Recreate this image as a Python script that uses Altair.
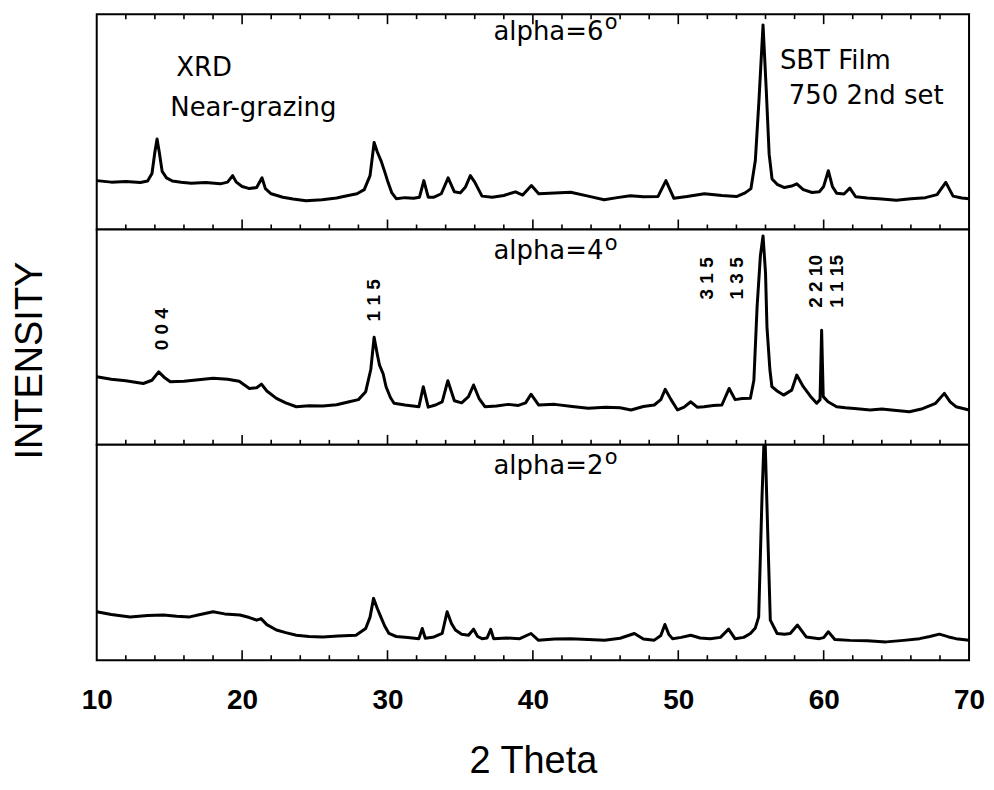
import altair as alt
import pandas as pd

# ---- alpha = 6 deg (top panel) ----
x6 = [10.0, 11.0, 12.0, 13.0, 13.5, 13.8, 14.0, 14.15, 14.3, 14.5, 14.8, 15.2, 15.8, 16.5, 17.5, 18.5,
      19.0, 19.35, 19.6, 20.0, 20.5, 21.0, 21.37, 21.6, 22.0, 22.8, 23.5, 24.4, 25.5, 26.5, 27.3, 27.9,
      28.4, 28.8, 29.08, 29.3, 29.55, 29.8, 30.0, 30.3, 30.6, 31.2, 31.8, 32.2, 32.5, 32.8, 33.2, 33.7,
      34.17, 34.6, 35.0, 35.35, 35.7, 36.0, 36.5, 37.2, 38.0, 38.8, 39.3, 39.9, 40.4, 41.5, 42.6, 43.8,
      44.9, 45.8, 46.7, 47.6, 48.6, 49.15, 49.7, 50.6, 51.8, 53.0, 54.0, 54.6, 55.0, 55.3, 55.55, 55.83,
      56.05, 56.25, 56.45, 56.8, 57.3, 57.8, 58.15, 58.6, 59.2, 59.7, 60.0, 60.32, 60.6, 60.9, 61.4, 61.8,
      62.2, 63.0, 64.0, 65.0, 66.0, 67.0, 67.8, 68.4, 68.9, 69.5, 70.0]
y6 = [22.7, 22.0, 22.3, 21.8, 22.5, 26, 36, 42, 36, 27, 24, 22.5, 21.9, 21.5, 21.8, 21.2,
      22.0, 25, 22, 20, 19, 19.5, 24, 19, 16.6, 15, 14.2, 13.4, 13.8, 14.6, 15.8, 16.6,
      18.5, 25, 40.4, 36, 32, 27, 22.7, 17, 14.3, 14.8, 14.5, 15, 22.7, 15, 15, 16.6,
      24, 17.5, 17, 19.6, 25, 22, 15.5, 15, 15.8, 17.5, 16, 20.4, 16.6, 17, 17.3, 15.5,
      13.8, 14.8, 15.7, 15.2, 15.3, 22.7, 14.5, 15.3, 16.6, 15.8, 15.3, 17, 19, 32, 60, 95,
      65, 35, 23.5, 21, 19.5, 20.2, 21.2, 18.5, 17.2, 17.5, 20, 27.3, 20, 16.8, 16.5, 19.2,
      15.2, 14.6, 14.2, 13.6, 14.3, 14.8, 16.2, 21.9, 15.5, 14.6, 14.3]

# ---- alpha = 4 deg (middle panel) ----
x4 = [10.0, 11.0, 12.0, 13.2, 13.8, 14.26, 14.7, 15.06, 16.0, 17.0, 18.0, 19.0, 19.8, 20.5, 21.0, 21.33,
      21.7, 22.36, 23.0, 23.73, 24.6, 25.55, 26.5, 27.37, 28.0, 28.5, 28.85, 29.08, 29.3, 29.45, 29.7,
      29.9, 30.2, 30.45, 31.2, 32.16, 32.46, 32.8, 33.3, 33.76, 34.15, 34.6, 35.1, 35.57, 35.92, 36.3,
      36.7, 37.5, 38.3, 39.0, 39.5, 39.87, 40.4, 41.5, 42.7, 43.8, 45.0, 46.0, 46.75, 47.6, 48.35, 48.8,
      49.1, 49.5, 49.95, 50.4, 50.86, 51.3, 51.77, 52.4, 53.0, 53.5, 53.91, 54.4, 54.96, 55.2, 55.42,
      55.65, 55.83, 56.0, 56.1, 56.3, 56.44, 56.8, 57.24, 57.8, 58.15, 58.6, 59.1, 59.52, 59.75, 59.86,
      59.97, 60.3, 60.89, 61.5, 62.3, 63.2, 64.0, 65.0, 65.9, 66.8, 67.7, 68.3, 68.7, 69.1, 70.0]
y4 = [31.6, 30.5, 29.8, 28.5, 30, 33.9, 31, 29.3, 29.5, 30.2, 30.9, 30.5, 29.5, 26.2, 26.5, 28.2,
      25, 21.6, 19.5, 17.7, 18.2, 18, 18.6, 20, 21, 24.7, 35, 50, 42, 37, 33,
      27, 22, 19.3, 18.5, 17.7, 27, 17.5, 18.5, 20, 29.8, 20.5, 19.5, 22.4, 27.8, 21.5,
      17.7, 18, 18.8, 18.3, 19.5, 23.5, 18.5, 18.8, 17.8, 17, 17.5, 17.2, 16.2, 17.8, 18.5, 21,
      25.8, 21, 16.2, 17.5, 20, 17.5, 17.7, 18.3, 18.5, 26.2, 21, 21.5, 21.6, 30, 64,
      88, 97, 80, 54.8, 35, 27, 25, 23.1, 25.4, 32.4, 27, 22.5, 19.3, 21, 53.2,
      22.4, 20, 17.7, 17.2, 16.8, 16.2, 16.6, 16, 15.4, 16.8, 19.3, 23.9, 20, 17.7, 16.2]

# ---- alpha = 2 deg (bottom panel) ----
x2 = [10.0, 11.0, 12.3, 13.5, 14.6, 15.5, 16.4, 17.2, 18.0, 18.8, 19.85, 20.5, 21.0, 21.3, 21.7, 22.36,
      23.0, 23.73, 24.6, 25.55, 26.6, 27.83, 28.5, 28.8, 29.04, 29.3, 29.54, 29.8, 30.1, 30.6, 31.4,
      32.16, 32.39, 32.6, 33.2, 33.76, 34.1, 34.4, 34.67, 35.1, 35.57, 35.92, 36.2, 36.5, 36.85, 37.1,
      37.3, 38.2, 39.1, 39.87, 40.37, 41.5, 42.6, 43.8, 44.93, 46.0, 46.98, 47.6, 48.35, 48.8, 49.08,
      49.35, 49.6, 50.2, 50.86, 51.5, 52.2, 52.9, 53.46, 53.9, 54.5, 54.96, 55.3, 55.53, 55.76, 55.94,
      56.15, 56.33, 56.8, 57.3, 57.7, 58.2, 58.8, 59.7, 60.0, 60.32, 60.77, 61.8, 63.0, 64.3, 65.5,
      66.6, 67.3, 67.96, 68.6, 69.1, 70.0]
y2 = [22.5, 21.2, 20.1, 20.8, 21, 20.4, 20.1, 21.3, 22.5, 21.5, 21, 19.8, 18.6, 19.3, 16.5, 14,
      12.8, 11.6, 11, 10.8, 11.2, 11.6, 14.7, 20, 28.7, 24, 20.1, 16, 12.4, 11, 10.5,
      10, 14.7, 10.2, 10.8, 12.4, 22.5, 17, 14, 12, 11.6, 14.4, 11, 10, 10.3, 14.3,
      10, 10.3, 10, 12.4, 9.3, 9.8, 10, 9.6, 9.3, 10.2, 12.4, 9.8, 9.3, 11.5, 16.6,
      12, 10, 10.6, 11.6, 10.3, 10, 10.6, 14.4, 10, 10.6, 12.4, 15, 20.1, 76, 110,
      60, 18.6, 12.4, 12, 12.4, 16.3, 10.8, 10, 10.5, 13.2, 9.6, 9.2, 9, 8.5, 9.2,
      10, 11, 12.1, 10.8, 10, 9.3]

# ---- axis ticks / labels ----
tick_labels = [10, 20, 30, 40, 50, 60, 70]
major_ticks = [20, 30, 40, 50, 60]
minor_ticks = [12, 14, 16, 18, 22, 24, 26, 28, 32, 34, 36, 38, 42, 44, 46, 48, 52, 54, 56, 58,
               62, 64, 66, 68]

# ---- annotations ----
alpha_text = ["alpha=6", "alpha=4", "alpha=2"]
alpha_y = [88, 86.1, 86.5]
deg_y = [93.1, 90.5, 91.0]
alpha_x = 44.85
deg_x = 44.95

top_notes = ["XRD", "Near-grazing", "SBT Film", "750 2nd set"]
top_notes_x = [15.47, 15.06, 56.99, 57.6]
top_notes_y = [71.3, 52.8, 74.5, 58.3]

hkl_text = ["0 0 4", "1 1 5", "3 1 5", "1 3 5", "2 2 10", "1 1 15"]
hkl_x = [14.5, 29.08, 52.0, 54.05, 59.45, 60.9]
hkl_y = [53.7, 67.1, 77.3, 77.3, 75.9, 75.9]

W, H = 875, 216
XS = alt.Scale(domain=[10, 70], nice=False, zero=False)
YS = alt.Scale(domain=[0, 100], nice=False, zero=False)
ANNOT_FONT = "DejaVu Sans"


def panel(i, xv, yv, top_ticks=False, bottom_axis=False, y_title=False, extra=None):
    if bottom_axis:
        xaxis = alt.Axis(values=tick_labels, ticks=False, domain=False, grid=False,
                         labelFont="Liberation Sans", labelFontSize=28, labelFontWeight="bold",
                         labelColor="black", labelPadding=26, labelFlush=False, labelOverlap=False,
                         title="2 Theta", titleFont="Liberation Sans", titleFontSize=38,
                         titleFontWeight="normal", titleColor="black", titlePadding=29)
    else:
        xaxis = None
    if y_title:
        yaxis = alt.Axis(title="INTENSITY", labels=False, ticks=False, domain=False, grid=False,
                         titleFont="Liberation Sans", titleFontSize=38, titleFontWeight="normal",
                         titleColor="black", titleX=-66, titleY=131, titleAngle=270,
                         titleAlign="center", titleBaseline="middle")
    else:
        yaxis = None

    def X(field):
        return alt.X(field, scale=XS, axis=xaxis)

    def Y(field):
        return alt.Y(field, scale=YS, axis=yaxis)

    def ticks(vals, length_px, top):
        # each tick is a short two-point line segment on the panel's own scales
        L = length_px / H * 100
        rows = []
        for t in vals:
            if top:
                rows += [{"t": t, "v": 100.0}, {"t": t, "v": 100.0 - L}]
            else:
                rows += [{"t": t, "v": 0.0}, {"t": t, "v": L}]
        df = pd.DataFrame(rows)
        return alt.Chart(df).mark_line(color="black", strokeWidth=1.6).encode(
            x=X("t:Q"), y=Y("v:Q"), detail="t:N")

    def texts(xs, ys, labels, **mark):
        df = pd.DataFrame({"x": xs, "y": ys, "label": labels})
        return alt.Chart(df).mark_text(color="black", **mark).encode(
            x=X("x:Q"), y=Y("y:Q"), text="label:N")

    df = pd.DataFrame({"x": xv, "y": yv})
    line = alt.Chart(df).mark_line(color="black", strokeWidth=3, clip=True,
                                   strokeJoin="round").encode(x=X("x:Q"), y=Y("y:Q"))
    layers = [line]
    layers.append(texts([alpha_x], [alpha_y[i]], [alpha_text[i]], font=ANNOT_FONT,
                        fontSize=26, align="right", baseline="alphabetic"))
    layers.append(texts([deg_x], [deg_y[i]], ["o"], font=ANNOT_FONT,
                        fontSize=21, align="left", baseline="alphabetic"))
    if extra == "top":
        layers.append(texts(top_notes_x, top_notes_y, top_notes, font=ANNOT_FONT, fontSize=26,
                            align="left", baseline="alphabetic"))
    if extra == "hkl":
        layers.append(texts(hkl_x, hkl_y, hkl_text, font="Liberation Sans", fontSize=19,
                            fontWeight="bold", angle=270, align="center", baseline="middle"))
    layers += [ticks(minor_ticks, 5, False), ticks(major_ticks, 10, False)]
    if top_ticks:
        layers += [ticks(minor_ticks, 5, True), ticks(major_ticks, 10, True)]
    return alt.layer(*layers).properties(
        width=W, height=H,
        view=alt.ViewBackground(stroke="black", strokeWidth=2, fill="white"))


p6 = panel(0, x6, y6, top_ticks=True, extra="top")
p4 = panel(1, x4, y4, y_title=True, extra="hkl")
p2 = panel(2, x2, y2, bottom_axis=True)

chart = alt.vconcat(p6, p4, p2, spacing=0, bounds="flush").properties(
    padding={"left": 3, "top": 0, "right": 0, "bottom": 0},
    background="white"
)

chart.save("out.html", embed_options={"renderer": "svg", "actions": False})
